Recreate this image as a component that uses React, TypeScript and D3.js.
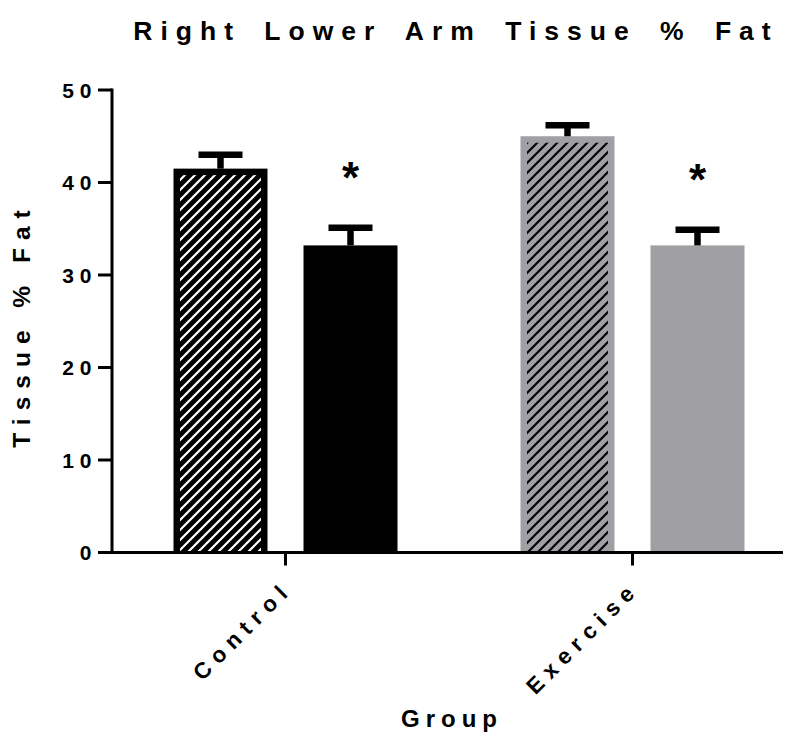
import React from "react";
import * as d3 from "d3";

// Group means and SEM for right lower arm tissue % fat
const groups = ["Control", "Exercise"];
const timepoints = ["pre", "post"];
const preMeans = [41.5, 45.0];
const preSem = [1.5, 1.2];
const postMeans = [33.2, 33.2];
const postSem = [1.9, 1.7];
const significant = [true, true];
const yTicks = [0, 10, 20, 30, 40, 50];

const W = 792;
const H = 756;
const FONT = "'Liberation Sans', Arial, Helvetica, sans-serif";
const GRAY = "#a0a0a4";

export default function App() {
  const y = d3.scaleLinear().domain([0, 50]).range([552.5, 90]);
  const x = d3.scaleBand<string>().domain(groups).range([112, 806]).padding(0);
  const inner = d3
    .scaleBand<string>()
    .domain(timepoints)
    .range([-112, 112])
    .paddingInner(0.277)
    .paddingOuter(0);
  const axisX0 = 110.5;
  const axisX1 = 783;
  const y0 = y(0);

  const bars = groups.flatMap((g, gi) => [
    { g, gi, t: "pre", v: preMeans[gi], e: preSem[gi], hatched: true },
    { g, gi, t: "post", v: postMeans[gi], e: postSem[gi], hatched: false },
  ]);

  return (
    <svg width={W} height={H} style={{ display: "block", position: "absolute", left: 0, top: 0 }}>
      <defs>
        <pattern id="hatchWhite" patternUnits="userSpaceOnUse" width={10} height={10}>
          <rect width={10} height={10} fill="#000" />
          <path d="M-2,2 l4,-4 M0,10 l10,-10 M8,12 l4,-4" stroke="#fff" strokeWidth={2.2} />
        </pattern>
        <pattern id="hatchBlack" patternUnits="userSpaceOnUse" width={10} height={10}>
          <rect width={10} height={10} fill={GRAY} />
          <path d="M-2,2 l4,-4 M0,10 l10,-10 M8,12 l4,-4" stroke="#000" strokeWidth={2.2} />
        </pattern>
      </defs>
      <rect width={W} height={H} fill="#fff" />

      {/* title */}
      <text
        x={456}
        y={40}
        textAnchor="middle"
        fontFamily={FONT}
        fontWeight="bold"
        fontSize={26.5}
        letterSpacing={8}
        wordSpacing={8}
        fill="#000"
      >
        Right Lower Arm Tissue % Fat
      </text>

      {/* bars */}
      {bars.map((b) => {
        const cx = (x(b.g) as number) + x.bandwidth() / 2;
        const bx = cx + (inner(b.t) as number);
        const bw = inner.bandwidth();
        const top = y(b.v);
        const color = b.gi === 0 ? "#000" : GRAY;
        const inset = 6.5;
        return (
          <g key={b.g + b.t}>
            <rect x={bx} y={top} width={bw} height={y0 - top} fill={color} />
            {b.hatched && (
              <rect
                x={bx + inset}
                y={top + inset}
                width={bw - 2 * inset}
                height={y0 - top - inset}
                fill={b.gi === 0 ? "url(#hatchWhite)" : "url(#hatchBlack)"}
              />
            )}
            {/* upper error bar */}
            <line x1={bx + bw / 2} x2={bx + bw / 2} y1={top} y2={y(b.v + b.e)} stroke="#000" strokeWidth={6.5} />
            <line
              x1={bx + bw / 2 - 22}
              x2={bx + bw / 2 + 22}
              y1={y(b.v + b.e)}
              y2={y(b.v + b.e)}
              stroke="#000"
              strokeWidth={6.5}
            />
            {!b.hatched && significant[b.gi] && (
              <text
                x={bx + bw / 2}
                y={y(b.v + b.e) - 35}
                textAnchor="middle"
                fontFamily={FONT}
                fontWeight="bold"
                fontSize={44}
                fill="#000"
              >
                *
              </text>
            )}
          </g>
        );
      })}

      {/* y axis */}
      <line x1={112} x2={112} y1={y(50) - 1.5} y2={y0 + 1.5} stroke="#000" strokeWidth={3} />
      {yTicks.map((t) => (
        <g key={t}>
          <line x1={98} x2={112} y1={y(t)} y2={y(t)} stroke="#000" strokeWidth={3} />
          <text
            x={97.5}
            y={y(t)}
            dy="0.36em"
            textAnchor="end"
            fontFamily={FONT}
            fontWeight="bold"
            fontSize={21}
            letterSpacing={6}
            fill="#000"
          >
            {t}
          </text>
        </g>
      ))}

      {/* x axis */}
      <line x1={axisX0} x2={axisX1} y1={y0} y2={y0} stroke="#000" strokeWidth={3} />
      {groups.map((g) => {
        const cx = (x(g) as number) + x.bandwidth() / 2;
        return (
          <g key={g}>
            <line x1={cx} x2={cx} y1={y0} y2={y0 + 13} stroke="#000" strokeWidth={3} />
            <text
              transform={`translate(${cx + 8},${y0 + 38}) rotate(-45)`}
              textAnchor="end"
              fontFamily={FONT}
              fontWeight="bold"
              fontSize={22.5}
              letterSpacing={7}
              fill="#000"
            >
              {g}
            </text>
          </g>
        );
      })}

      {/* axis titles */}
      <text
        x={452}
        y={727}
        textAnchor="middle"
        fontFamily={FONT}
        fontWeight="bold"
        fontSize={24}
        letterSpacing={6}
        fill="#000"
      >
        Group
      </text>
      <text
        transform={`translate(30,${325}) rotate(-90)`}
        textAnchor="middle"
        fontFamily={FONT}
        fontWeight="bold"
        fontSize={24.5}
        letterSpacing={8}
        fill="#000"
      >
        Tissue % Fat
      </text>
    </svg>
  );
}
